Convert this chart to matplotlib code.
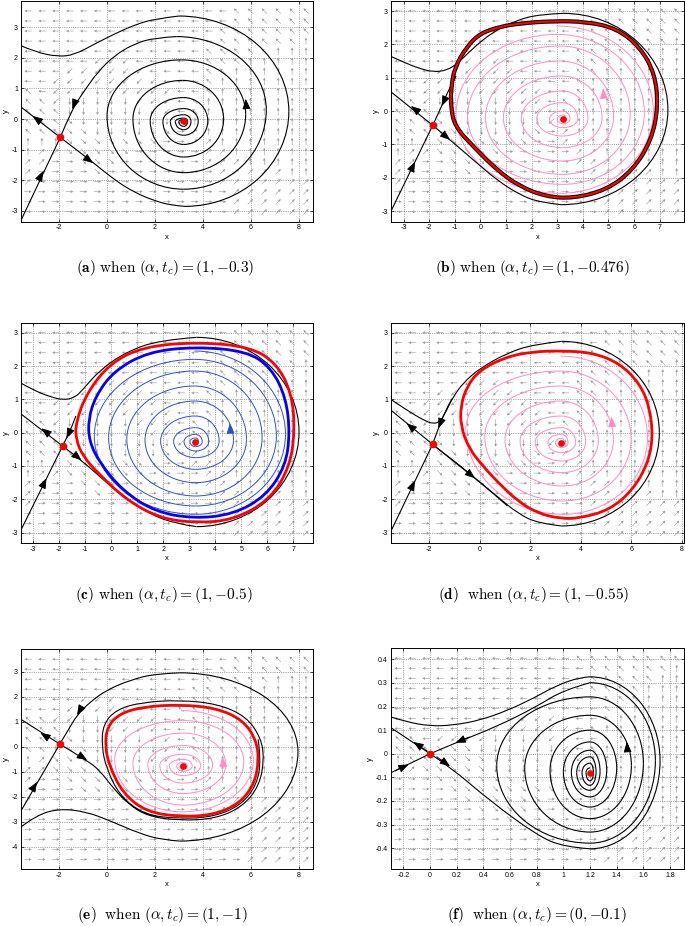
import numpy as np
import matplotlib
matplotlib.use("Agg")
import matplotlib.pyplot as plt
from matplotlib.patches import Arc, PathPatch
from matplotlib.path import Path
from matplotlib.ticker import FuncFormatter

plt.rcParams['font.family'] = ['Liberation Sans', 'DejaVu Sans']
plt.rcParams['mathtext.fontset'] = 'cm'
plt.rcParams['axes.unicode_minus'] = False

# ---------------- data ----------------
captions = [r'$\mathbf{(a)}\ \mathrm{when}\ (\alpha, t_c) = (1, {-}0.3)$',
            r'$\mathbf{(b)}\ \mathrm{when}\ (\alpha, t_c) = (1, {-}0.476)$',
            r'$\mathbf{(c)}\ \mathrm{when}\ (\alpha, t_c) = (1, {-}0.5)$',
            r'$\mathbf{(d)}\ \ \mathrm{when}\ (\alpha, t_c) = (1, {-}0.55)$',
            r'$\mathbf{(e)}\ \ \mathrm{when}\ (\alpha, t_c) = (1, {-}1)$',
            r'$\mathbf{(f)}\ \ \mathrm{when}\ (\alpha, t_c) = (0, {-}0.1)$']

# direction field, one glyph per arrow, top row first
field_ad = ["←←←←←←←←←←←←←←←↖↖↖↖↖↖",
            "←←←←←←←←←←←←←←←↖↖↖↖↖↖",
            "←←←←←←←←←←←←←←↖↖↖↖↖↖↖",
            "←←←←←←←←←←←←←←↖↖↖↖↖↖↑",
            "←←←←←←←←←←←←←↖↖↖↖↖↑↑↑",
            "←←←←←↙↙↙←←←←←↖↖↖↑↑↑↑↑",
            "←←←↙↙↙↙↙↙←←←←↖↖↑↑↑↑↑↑",
            "←←↙↙↙↙↙↙↙↙←←←↖↑↑↑↑↑↑↑",
            "↖←↙↙↙↓↙↙↙↙↙←←↖↑↑↑↑↑↑↑",
            "↖↖↙↓↓↓↓↓↙↙↙←↖↑↑↑↑↑↑↑↑",
            "↖↖↖↓↓↓↓↓↓↙↙←↖↑↑↑↑↑↑↑↑",
            "↖↖↖↘↓↓↓↓↓↓↓↙↑↑↑↑↑↑↑↑↑",
            "↖↖↖↘↘↓↓↓↓↓↘→↗↑↑↑↑↑↑↑↑",
            "↑↑↑↘↘↘↘↘↘↘→→↗↗↑↑↑↑↑↑↑",
            "↑↗↗↘↘↘↘↘→→→→→↗↗↑↑↑↑↑↑",
            "↗↗→→↘↘↘→→→→→→↗↗↗↑↑↑↑↑",
            "↗→→→→↘→→→→→→→→↗↗↗↗↗↑↑",
            "↗→→→→→→→→→→→→→↗↗↗↗↗↗↗",
            "→→→→→→→→→→→→→→→↗↗↗↗↗↗",
            "→→→→→→→→→→→→→→→↗↗↗↗↗↗",
            "→→→→→→→→→→→→→→→↗↗↗↗↗↗"]
field_e = ["←←←←←←←←←←←←←←←↖↖↖↖↖↖",
           "←←←←←←←←←←←←←←↖↖↖↖↖↖↖",
           "←←←←←←←←←←←←←↖↖↖↖↖↑↑↑",
           "←←←←←←←←←←←←↖↖↖↖↑↑↑↑↑",
           "←←←←↙↙↙←←←←↖↖↖↑↑↑↑↑↑↑",
           "←←←↙↙↙↙↙←←←↖↖↑↑↑↑↑↑↑↑",
           "↖↖↙↙↓↓↙↙↙↙←←↖↑↑↑↑↑↑↑↑",
           "↖↖↖↓↓↓↙↙↙↙←←↑↑↑↑↑↑↑↑↑",
           "↖↖↖↘↓↓↓↓↓↙↙←↖↑↑↑↑↑↑↑↑",
           "↖↖↑↘↘↓↓↓↓↓↙←↖↑↑↑↑↑↑↑↑",
           "↑↗↘↘↘↓↓↓↓↙↙←↖↑↑↑↑↑↑↑↑",
           "↗↗↘↘↘↘↓↓↓↓↓↘↑↑↑↑↑↑↑↑↑",
           "↗→→↘↘↘↘↘↘↘→→↗↗↑↑↑↑↑↑↑",
           "↗→→→↘↘↘↘→→→→→↗↗↑↑↑↑↑↑",
           "↗→→→→→→→→→→→→→↗↗↗↗↗↗↗",
           "→→→→→→→→→→→→→→↗↗↗↗↗↗↗",
           "→→→→→→→→→→→→→→→↗↗↗↗↗↗",
           "→→→→→→→→→→→→→→→→↗↗↗↗↗",
           "→→→→→→→→→→→→→→→→↗↗↗↗↗",
           "→→→→→→→→→→→→→→→→↗↗↗↗↗",
           "→→→→→→→→→→→→→→→→↗↗↗↗↗"]
field_f = ["←←←←←←←←←←←←←↖↖↖↖↖↖↖↖",
           "←←←←←←←←←←←←←←↖↖↖↖↖↖↑",
           "←←←←←←←←←←←←←←↖↖↖↖↖↑↑",
           "←←←←←←←←←←←←←←↖↖↖↖↑↑↑",
           "←←←←←←←←←←←←←←←↖↖↖↑↑↑",
           "←←←←←←←←←←←←←←←↖↖↑↑↑↑",
           "←←←←←←←←←↙↙↙←←←↖↑↑↑↑↑",
           "←←←←←←↙↙↙↙↙↙↙←↖↑↑↑↑↑↑",
           "↖↖←↙↙↙↙↓↓↓↙↙↙←←↖↑↑↑↑↑",
           "↖↖↖↘↘↘↓↓↓↓↓↓↙←↖↑↑↑↑↑↑",
           "↑↖↖↘↘↘↘↓↓↓↓↓↓↙↑↑↑↑↑↑↑",
           "↗↗↘↘↘↘↘↓↓↓↓↓↓↓↑↑↑↑↑↑↑",
           "→→→↘↘↘↘↘↘↓↓↓↘→↗↑↑↑↑↑↑",
           "→→→→↘↘↘↘↘↘↘↘→→→↗↑↑↑↑↑",
           "→→→→→↘↘↘↘↘↘→→→→↗↗↑↑↑↑",
           "→→→→→→↘↘↘↘→→→→→→↗↗↑↑↑",
           "→→→→→→→→↘↘→→→→→→↗↗↗↑↑",
           "→→→→→→→→→→→→→→→↗↗↗↗↗↗",
           "→→→→→→→→→→→→→→→↗↗↗↗↗↗",
           "→→→→→→→→→→→→→→→↗↗↗↗↗↗",
           "→→→→→→→→→→→→→→→↗↗↗↗↗↗"]

# (a)
a_saddle = (-1.95, -0.6)
a_focus = (3.2, -0.08)
a_lines = [[(-1.95, -0.6), (-3.62, 0.41)],
           [(-3.62, -3.36), (-1.95, -0.6)],
           [(-1.95, -0.6), (-1.2, -1.05), (-0.58, -1.42), (0.32, -1.99), (1.15, -2.4),
            (1.99, -2.67), (2.7, -2.82), (3.25, -2.85)],
           [(3.0, 3.36), (1.99, 3.27), (1.15, 3.07), (0.32, 2.78), (-0.51, 2.45),
            (-1.35, 2.1), (-2.04, 2.03), (-3.01, 2.19), (-3.64, 2.41)],
           [(-1.95, -0.6), (-1.48, 0.29), (-0.93, 0.94), (-0.37, 1.55), (0.32, 2.08),
            (1.15, 2.46), (1.99, 2.65), (2.9, 2.69)]]
a_loops = [[(3.25, -2.85), (7.58, 0.25), (3.0, 3.36)],
           [(2.9, 2.69), (6.64, 0.3), (3.2, -2.29), (0.0, 0.1), (3.1, 1.93), (5.78, 0.15),
            (3.2, -1.75), (1.08, 0.0), (3.15, 1.26), (4.86, 0.0), (3.2, -1.24), (1.8, -0.05),
            (3.2, 0.7), (4.2, -0.06), (3.2, -0.83), (2.33, -0.07), (3.2, 0.34), (3.8, -0.07),
            (3.2, -0.53), (2.64, -0.08), (3.2, 0.14), (3.5, -0.08), (3.2, -0.35), (2.85, -0.08),
            (3.2, 0.03), (3.36, -0.08), (3.2, -0.24), (2.99, -0.08), (3.2, -0.02), (3.3, -0.08),
            (3.2, -0.16), (3.09, -0.08), (3.2, -0.05), (3.25, -0.08)]]
a_arrows = [(-3.1, 0.1, -0.17, 0.1), (-2.67, -1.7, 0.1, 0.165), (-1.45, 0.32, -0.05, -0.1),
            (-0.58, -1.44, 0.17, -0.1), (5.78, 0.66, -0.02, 0.2)]

# (b)
b_saddle = (-1.86, -0.43)
b_focus = (3.23, -0.24)
b_lines = [[(-1.86, -0.43), (-3.5, 0.58)],
           [(-3.5, -3.02), (-1.86, -0.43)],
           [(-1.86, -0.43), (-1.18, -0.87), (-0.27, -1.47), (0.64, -2.07), (1.55, -2.52),
            (2.32, -2.74), (3.15, -2.81)],
           [(3.23, 2.93), (2.3, 2.9), (1.4, 2.72), (0.5, 2.38), (-0.3, 1.88), (-0.85, 1.45),
            (-1.3, 1.22), (-1.83, 1.17), (-2.4, 1.28), (-2.95, 1.45), (-3.5, 1.64)],
           [(-1.86, -0.43), (-1.51, 0.15), (-1.2, 0.7), (-0.95, 1.05)]]
b_loops = [[(3.15, -2.81), (7.32, 0.03), (3.23, 2.93)]]
b_red = [(6.94, 0.13), (6.81, 1.13), (6.22, 1.93), (5.31, 2.48), (4.14, 2.68), (2.84, 2.7),
         (1.55, 2.63), (0.77, 2.53), (-0.01, 2.33), (-0.53, 1.93), (-0.99, 1.33), (-1.14, 0.73),
         (-1.16, 0.13), (-0.99, -0.47), (-0.27, -1.07), (0.64, -1.77), (1.55, -2.27),
         (2.58, -2.57), (3.62, -2.62), (4.92, -2.37), (5.96, -1.77), (6.68, -0.87)]
b_pink = [(3.0, 2.55), (6.75, 0.0), (3.1, -2.47), (-0.95, -0.1), (3.0, 2.3), (6.4, -0.05),
          (3.2, -2.2), (-0.5, -0.15), (3.1, 1.95), (5.85, -0.1), (3.2, -1.9), (0.2, -0.2),
          (3.1, 1.5), (5.2, -0.15), (3.2, -1.5), (0.9, -0.2), (3.15, 1.05), (4.75, -0.2),
          (3.2, -1.1), (1.6, -0.22), (3.2, 0.6), (4.2, -0.22), (3.2, -0.75), (2.2, -0.23),
          (3.2, 0.25), (3.8, -0.23), (3.22, -0.5), (2.7, -0.24), (3.22, 0.0), (3.5, -0.24),
          (3.23, -0.38), (3.0, -0.24), (3.23, -0.12), (3.35, -0.24), (3.23, -0.32), (3.13, -0.24)]
b_arrows = [(-2.71, 0.15, -0.164, 0.1), (-2.55, -1.52, 0.1, 0.16), (-1.51, 0.15, -0.06, -0.1),
            (-1.18, -0.87, 0.17, -0.11)]
b_pink_arrows = [(4.79, 0.68, -0.02, 0.2)]

# (c)
c_saddle = (-1.87, -0.4)
c_focus = (3.24, -0.27)
c_lines = [[(-1.87, -0.4), (-3.5, 0.58)],
           [(-3.5, -2.97), (-1.87, -0.4)],
           [(-1.87, -0.4), (-1.14, -0.83), (-0.44, -1.32), (0.46, -1.92), (1.49, -2.45),
            (2.51, -2.74), (3.28, -2.82)],
           [(3.28, 2.86), (1.87, 2.78), (0.59, 2.43), (-0.44, 1.88), (-1.08, 1.3),
            (-1.4, 1.05), (-1.85, 0.98), (-2.36, 1.08), (-3.0, 1.28), (-3.5, 1.5)],
           [(-1.87, -0.4), (-1.72, -0.17), (-1.5, 0.2), (-1.36, 0.5)]]
c_loops = [[(3.28, -2.82), (7.22, 0.02), (3.28, 2.86)]]
c_red = [(7.06, 0.08), (6.94, 1.18), (6.36, 2.08), (5.33, 2.58), (3.28, 2.72), (1.23, 2.58),
         (-0.05, 2.08), (-0.95, 1.18), (-1.36, 0.3), (-1.36, -0.2), (-1.08, -0.72),
         (-0.44, -1.27), (0.59, -2.02), (1.87, -2.57), (3.28, -2.71), (4.69, -2.62),
         (6.1, -2.02), (6.87, -1.02)]
c_blue = [(6.87, -0.02), (6.72, 1.05), (6.15, 1.95), (5.2, 2.45), (3.2, 2.58), (1.4, 2.42),
          (0.1, 1.85), (-0.6, 1.1), (-0.88, 0.4), (-0.85, -0.25), (-0.45, -0.9), (0.45, -1.75),
          (1.7, -2.38), (3.2, -2.58), (4.7, -2.45), (5.95, -1.9), (6.7, -1.0)]
c_thin = [(3.2, 2.45), (6.7, -0.05), (3.25, -2.45), (-0.65, -0.1), (3.2, 2.2), (6.35, -0.1),
          (3.25, -2.2), (-0.1, -0.15), (3.2, 1.85), (5.8, -0.15), (3.25, -1.9), (0.6, -0.2),
          (3.2, 1.4), (5.2, -0.2), (3.25, -1.5), (1.3, -0.22), (3.22, 0.95), (4.7, -0.23),
          (3.25, -1.1), (1.9, -0.25), (3.23, 0.5), (4.15, -0.25), (3.25, -0.75), (2.4, -0.26),
          (3.24, 0.15), (3.75, -0.26), (3.25, -0.55), (2.8, -0.27), (3.24, -0.05), (3.5, -0.27),
          (3.24, -0.42), (3.03, -0.27), (3.24, -0.16), (3.36, -0.27), (3.24, -0.34), (3.14, -0.27)]
c_arrows = [(-2.68, 0.13, -0.164, 0.1), (-2.49, -1.37, 0.1, 0.16), (-1.72, -0.17, -0.06, -0.1),
            (-1.14, -0.83, 0.17, -0.11)]
c_blue_arrows = [(4.56, 0.28, -0.02, 0.2)]

# (d)
d_saddle = (-1.87, -0.35)
d_focus = (3.24, -0.3)
d_lines = [[(-1.87, -0.35), (-3.53, 0.68)],
           [(-3.53, -2.97), (-1.87, -0.35)],
           [(-1.87, -0.35), (-1.0, -0.88), (-0.19, -1.37), (0.5, -1.8), (1.1, -2.2)],
           [(-3.53, 1.0), (-2.9, 0.68), (-2.24, 0.38), (-1.84, 0.26), (-1.55, 0.34),
            (-1.31, 0.68), (-1.05, 1.08), (-0.65, 1.5), (0.0, 1.93), (1.06, 2.38),
            (2.12, 2.65), (3.24, 2.74)],
           [(3.24, -2.8), (2.3, -2.72), (1.5, -2.42), (0.7, -1.92), (0.0, -1.48),
            (-0.8, -0.98), (-1.5, -0.57), (-1.85, -0.37)],
           [(-1.87, -0.35), (-1.64, 0.13), (-1.4, 0.6), (-1.1, 1.02)]]
d_loops = [[(3.24, 2.74), (7.12, 0.0), (3.24, -2.8)]]
d_red = [(6.87, -0.12), (6.73, 0.78), (6.34, 1.48), (5.55, 2.08), (4.49, 2.4), (3.24, 2.46),
         (2.12, 2.43), (1.06, 2.28), (0.0, 1.88), (-0.52, 1.38), (-0.76, 0.78), (-0.75, 0.2),
         (-0.45, -0.45), (0.14, -1.02), (0.8, -1.55), (1.5, -2.05), (2.3, -2.42), (3.2, -2.58),
         (3.96, -2.57), (5.15, -2.32), (6.07, -1.72), (6.67, -0.92)]
d_pink = [(3.2, 2.3), (6.65, -0.15), (3.3, -2.45), (-0.55, 0.1), (3.2, 1.85), (6.0, -0.2),
          (3.3, -2.05), (0.2, -0.1), (3.2, 1.4), (5.3, -0.2), (3.28, -1.6), (1.0, -0.2),
          (3.22, 0.95), (4.7, -0.25), (3.26, -1.2), (1.6, -0.25), (3.23, 0.5), (4.2, -0.27),
          (3.25, -0.85), (2.2, -0.28), (3.24, 0.15), (3.8, -0.29), (3.25, -0.6), (2.7, -0.3),
          (3.24, -0.05), (3.5, -0.3), (3.24, -0.45), (3.0, -0.3), (3.24, -0.17), (3.36, -0.3),
          (3.24, -0.38), (3.15, -0.3)]
d_arrows = [(-2.9, 0.28, -0.16, 0.1), (-2.57, -1.44, 0.1, 0.16), (-1.64, 0.13, -0.05, -0.1),
            (-0.19, -1.37, 0.16, -0.1)]
d_pink_arrows = [(5.22, 0.48, -0.02, 0.2)]

# (e)
e_saddle = (-1.97, 0.11)
e_focus = (3.17, -0.76)
e_lines = [[(-1.97, 0.11), (-3.61, 1.11)],
           [(-3.61, -2.6), (-1.97, 0.11)],
           [(-1.97, 0.11), (-0.83, -0.55), (-0.3, -0.95), (0.3, -1.7), (0.9, -2.3), (1.7, -2.78),
            (3.03, -2.95), (4.5, -2.88), (5.65, -2.4), (6.35, -1.55), (6.55, -0.5), (6.42, 0.35),
            (5.8, 1.22), (4.6, 1.72), (3.03, 1.87), (1.45, 1.78), (0.4, 1.5), (-0.17, 0.9),
            (-0.22, 0.0), (-0.03, -0.85), (0.52, -1.95), (1.55, -2.72), (3.03, -2.88),
            (4.45, -2.8), (5.6, -2.33), (6.25, -1.5), (6.42, -0.52), (6.3, 0.3)],
           [(-3.61, -3.22), (-2.94, -2.73), (-1.97, -2.47), (-0.86, -2.6), (0.11, -2.95),
            (1.36, -3.47), (2.3, -3.72), (3.03, -3.77)],
           [(3.03, 2.96), (2.0, 2.92), (1.0, 2.68), (0.0, 2.28), (-0.7, 1.8), (-1.25, 1.27),
            (-1.6, 0.7), (-1.97, 0.11)]]
e_loops = [[(3.03, -3.77), (7.96, -0.2), (3.03, 2.96)]]
e_red = [(6.33, -0.53), (6.22, 0.27), (5.67, 1.07), (4.56, 1.55), (3.03, 1.69), (1.5, 1.6),
         (0.53, 1.33), (0.0, 0.8), (-0.08, 0.0), (0.11, -0.8), (0.67, -1.87), (1.64, -2.6),
         (3.03, -2.8), (4.42, -2.73), (5.53, -2.27), (6.15, -1.47)]
e_pink = [(3.1, 1.45), (6.1, -0.55), (3.15, -2.6), (0.32, -0.5), (3.15, 1.05), (5.7, -0.6),
          (3.17, -2.33), (1.08, -0.65), (3.17, 0.55), (4.95, -0.7), (3.17, -1.87), (1.7, -0.7),
          (3.17, 0.05), (4.4, -0.72), (3.17, -1.45), (2.2, -0.74), (3.17, -0.3), (3.9, -0.75),
          (3.17, -1.15), (2.6, -0.75), (3.17, -0.5), (3.55, -0.76), (3.17, -0.98), (2.9, -0.76),
          (3.17, -0.63), (3.35, -0.76), (3.17, -0.88), (3.05, -0.76), (3.17, -0.7), (3.24, -0.76)]
e_arrows = [(-2.78, 0.56, -0.164, 0.1), (-2.92, -1.4, 0.1, 0.165), (-0.83, -0.53, 0.17, -0.1),
            (-1.25, 1.27, -0.06, -0.1)]
e_pink_arrows = [(4.81, -0.4, -0.02, 0.2)]

# (f)
f_saddle = (0.0, 0.0)
f_focus = (1.2, -0.08)
f_lines = [[(0.0, 0.0), (-0.295, 0.111)],
           [(-0.295, -0.081), (0.0, 0.0)],
           [(1.2, 0.326), (1.125, 0.324), (0.95, 0.29), (0.775, 0.235), (0.575, 0.182),
            (0.375, 0.142), (0.175, 0.121), (0.0, 0.117), (-0.175, 0.135), (-0.295, 0.156)],
           [(0.0, 0.0), (0.15, -0.055), (0.45, -0.2), (0.8, -0.345), (1.0, -0.395), (1.2, -0.403)],
           [(0.0, 0.0), (0.19, 0.046), (0.5, 0.115), (0.8, 0.2), (1.0, 0.27), (1.2, 0.301)]]
f_loops = [[(1.2, -0.403), (1.725, -0.03), (1.2, 0.326)],
           [(1.2, 0.301), (1.69, -0.03), (1.2, -0.379), (0.5, -0.05), (1.2, 0.241), (1.6, -0.04),
            (1.2, -0.332), (0.71, -0.06), (1.2, 0.163), (1.51, -0.05), (1.2, -0.275), (0.9, -0.07),
            (1.2, 0.1), (1.4, -0.06), (1.2, -0.226), (1.0, -0.075), (1.2, 0.05), (1.325, -0.07),
            (1.2, -0.183), (1.06, -0.078), (1.2, 0.015), (1.275, -0.075), (1.2, -0.155),
            (1.1, -0.08), (1.2, -0.013), (1.245, -0.078), (1.2, -0.134), (1.14, -0.08),
            (1.2, -0.04), (1.225, -0.08), (1.2, -0.115), (1.17, -0.08), (1.2, -0.06)]]
f_arrows = [(-0.125, 0.05, -0.1, 0.037), (-0.16, -0.045, 0.1, 0.027), (0.19, 0.046, -0.1, -0.024),
            (0.15, -0.053, 0.1, -0.04), (1.475, 0.05, -0.005, 0.03)]

# ---------------- drawing ----------------
DIRS = {'→': 0, '↗': 45, '↑': 90, '↖': 135, '←': 180, '↙': 225, '↓': 270, '↘': 315}
PINK = '#ff8cc6'


def field(ax, rows):
    x0, x1 = ax.get_xlim()
    y0, y1 = ax.get_ylim()
    mx, my = 0.025 * (x1 - x0), 0.045 * (y1 - y0)
    X, Y, A = [], [], []
    for yv, row in zip(np.linspace(y1 - my, y0 + my, len(rows)), rows):
        for xv, ch in zip(np.linspace(x0 + mx, x1 - mx, len(row)), row):
            X.append(xv)
            Y.append(yv)
            A.append(np.radians(DIRS[ch]))
    A = np.array(A)
    ax.quiver(X, Y, np.cos(A), np.sin(A), angles='uv', pivot='middle', units='dots',
              scale_units='dots', scale=1 / 7.5, width=0.6, headwidth=5, headlength=5,
              headaxislength=4.5, color='0.62', zorder=1)


def smooth(ax, pts, closed=False, **kw):
    p = np.asarray(pts, float)
    n = len(p)
    if closed:
        mids = (p + np.roll(p, -1, axis=0)) / 2
        verts, codes = [mids[-1]], [Path.MOVETO]
        for i in range(n):
            verts += [p[i], mids[i]]
            codes += [Path.CURVE3, Path.CURVE3]
    else:
        verts, codes = [p[0]], [Path.MOVETO]
        if n == 2:
            verts.append(p[1])
            codes.append(Path.LINETO)
        for i in range(1, n - 1):
            end = p[-1] if i == n - 2 else (p[i] + p[i + 1]) / 2
            verts += [p[i], end]
            codes += [Path.CURVE3, Path.CURVE3]
    ax.add_patch(PathPatch(Path(verts, codes), fill=False, **kw))


def chain(ax, pts, **kw):
    # quarter ellipses between alternating top/bottom and left/right extreme points
    for i in range(len(pts) - 1):
        p, q = pts[i], pts[i + 1]
        h, v = (p, q) if i % 2 == 0 else (q, p)
        cx, cy = h[0], v[1]
        a1 = 0 if v[0] > cx else 180
        a2 = 90 if h[1] > cy else 270
        lo, hi = sorted((a1, a2))
        if hi - lo > 180:
            lo, hi = hi, lo + 360
        ax.add_patch(Arc((cx, cy), 2 * abs(v[0] - cx), 2 * abs(h[1] - cy),
                         theta1=lo, theta2=hi, fill=False, **kw))


def heads(ax, arrows, color):
    for x, y, dx, dy in arrows:
        ax.annotate('', xy=(x, y), xytext=(x - dx, y - dy), zorder=6,
                    arrowprops=dict(arrowstyle='-|>,head_length=0.9,head_width=0.35',
                                    color=color, lw=0.6, shrinkA=0, shrinkB=0,
                                    mutation_scale=7))


def panel(rect, xlim, ylim, xticks, yticks, rows):
    ax = fig.add_axes(rect)
    ax.set_xlim(xlim)
    ax.set_ylim(ylim)
    ax.set_xticks(xticks)
    ax.set_yticks(yticks)
    fmt = FuncFormatter(lambda v, p: '%g' % v)
    ax.xaxis.set_major_formatter(fmt)
    ax.yaxis.set_major_formatter(fmt)
    ax.tick_params(direction='in', length=2, width=0.5, labelsize=5, pad=2,
                   top=True, right=True)
    for s in ax.spines.values():
        s.set_linewidth(0.7)
    ax.grid(True, ls=':', lw=0.5, color='0.35')
    ax.set_axisbelow(True)
    ax.set_xlabel('x', fontsize=5.5, labelpad=1.5)
    ax.set_ylabel('y', fontsize=5.5, labelpad=1)
    field(ax, rows)
    return ax


def portrait(ax, saddle, focus, lines, loops, arrows):
    for pts in lines:
        smooth(ax, pts, edgecolor='black', lw=0.8, zorder=3)
    for pts in loops:
        chain(ax, pts, edgecolor='black', lw=0.8, zorder=3)
    heads(ax, arrows, 'black')
    ax.plot(*saddle, 'o', color='red', ms=4.5, mec='red', zorder=7)
    ax.plot(*focus, 'o', color='red', ms=3.8, mec='red', zorder=7)


fig = plt.figure(figsize=(6.85, 9.26), dpi=100)

ax = panel([0.0302, 0.7606, 0.4272, 0.2383], (-3.6, 8.6), (-3.35, 3.85),
           [-2, 0, 2, 4, 6, 8], [-3, -2, -1, 0, 1, 2, 3], field_ad)
portrait(ax, a_saddle, a_focus, a_lines, a_loops, a_arrows)

ax = panel([0.5704, 0.7606, 0.4282, 0.2383], (-3.5, 7.95), (-3.32, 3.3),
           list(range(-3, 8)), [-3, -2, -1, 0, 1, 2, 3], field_ad)
chain(ax, b_pink, edgecolor=PINK, lw=0.7, zorder=2)
smooth(ax, b_red, closed=True, edgecolor='black', lw=3.0, zorder=3)
smooth(ax, b_red, closed=True, edgecolor='red', lw=1.5, zorder=4)
heads(ax, b_pink_arrows, PINK)
portrait(ax, b_saddle, b_focus, b_lines, b_loops, b_arrows)

ax = panel([0.0302, 0.4133, 0.4272, 0.2382], (-3.48, 7.77), (-3.32, 3.3),
           list(range(-3, 8)), [-3, -2, -1, 0, 1, 2, 3], field_ad)
portrait(ax, c_saddle, c_focus, c_lines, c_loops, c_arrows)
chain(ax, c_thin, edgecolor='#2f4fd0', lw=0.7, zorder=4)
smooth(ax, c_blue, closed=True, edgecolor='#0000ff', lw=2.0, zorder=5)
smooth(ax, c_red, closed=True, edgecolor='red', lw=2.0, zorder=5)
heads(ax, c_blue_arrows, '#2f4fd0')

ax = panel([0.5704, 0.4133, 0.4282, 0.2382], (-3.53, 8.1), (-3.32, 3.3),
           [-2, 0, 2, 4, 6, 8], [-3, -2, -1, 0, 1, 2, 3], field_ad)
chain(ax, d_pink, edgecolor=PINK, lw=0.7, zorder=2)
smooth(ax, d_red, closed=True, edgecolor='red', lw=2.0, zorder=4)
heads(ax, d_pink_arrows, PINK)
portrait(ax, d_saddle, d_focus, d_lines, d_loops, d_arrows)

ax = panel([0.0302, 0.0612, 0.4272, 0.2376], (-3.6, 8.6), (-4.9, 3.9),
           [-2, 0, 2, 4, 6, 8], [-4, -3, -2, -1, 0, 1, 2, 3], field_e)
chain(ax, e_pink, edgecolor=PINK, lw=0.7, zorder=2)
smooth(ax, e_red, closed=True, edgecolor='red', lw=2.0, zorder=4)
heads(ax, e_pink_arrows, PINK)
portrait(ax, e_saddle, e_focus, e_lines, e_loops, e_arrows)

ax = panel([0.5704, 0.0612, 0.4282, 0.2387], (-0.295, 1.905), (-0.49, 0.447),
           [-0.2, 0, 0.2, 0.4, 0.6, 0.8, 1, 1.2, 1.4, 1.6, 1.8],
           [-0.4, -0.3, -0.2, -0.1, 0, 0.1, 0.2, 0.3, 0.4], field_f)
portrait(ax, f_saddle, f_focus, f_lines, f_loops, f_arrows)

cap_pos = [(165, 268), (532, 268), (164, 595), (534, 595), (162, 915), (537, 915)]
for (px, py), txt in zip(cap_pos, captions):
    fig.text(px / 685, 1 - py / 926, txt, ha='center', va='center', fontsize=11)

fig.savefig('out.png', dpi=100)
